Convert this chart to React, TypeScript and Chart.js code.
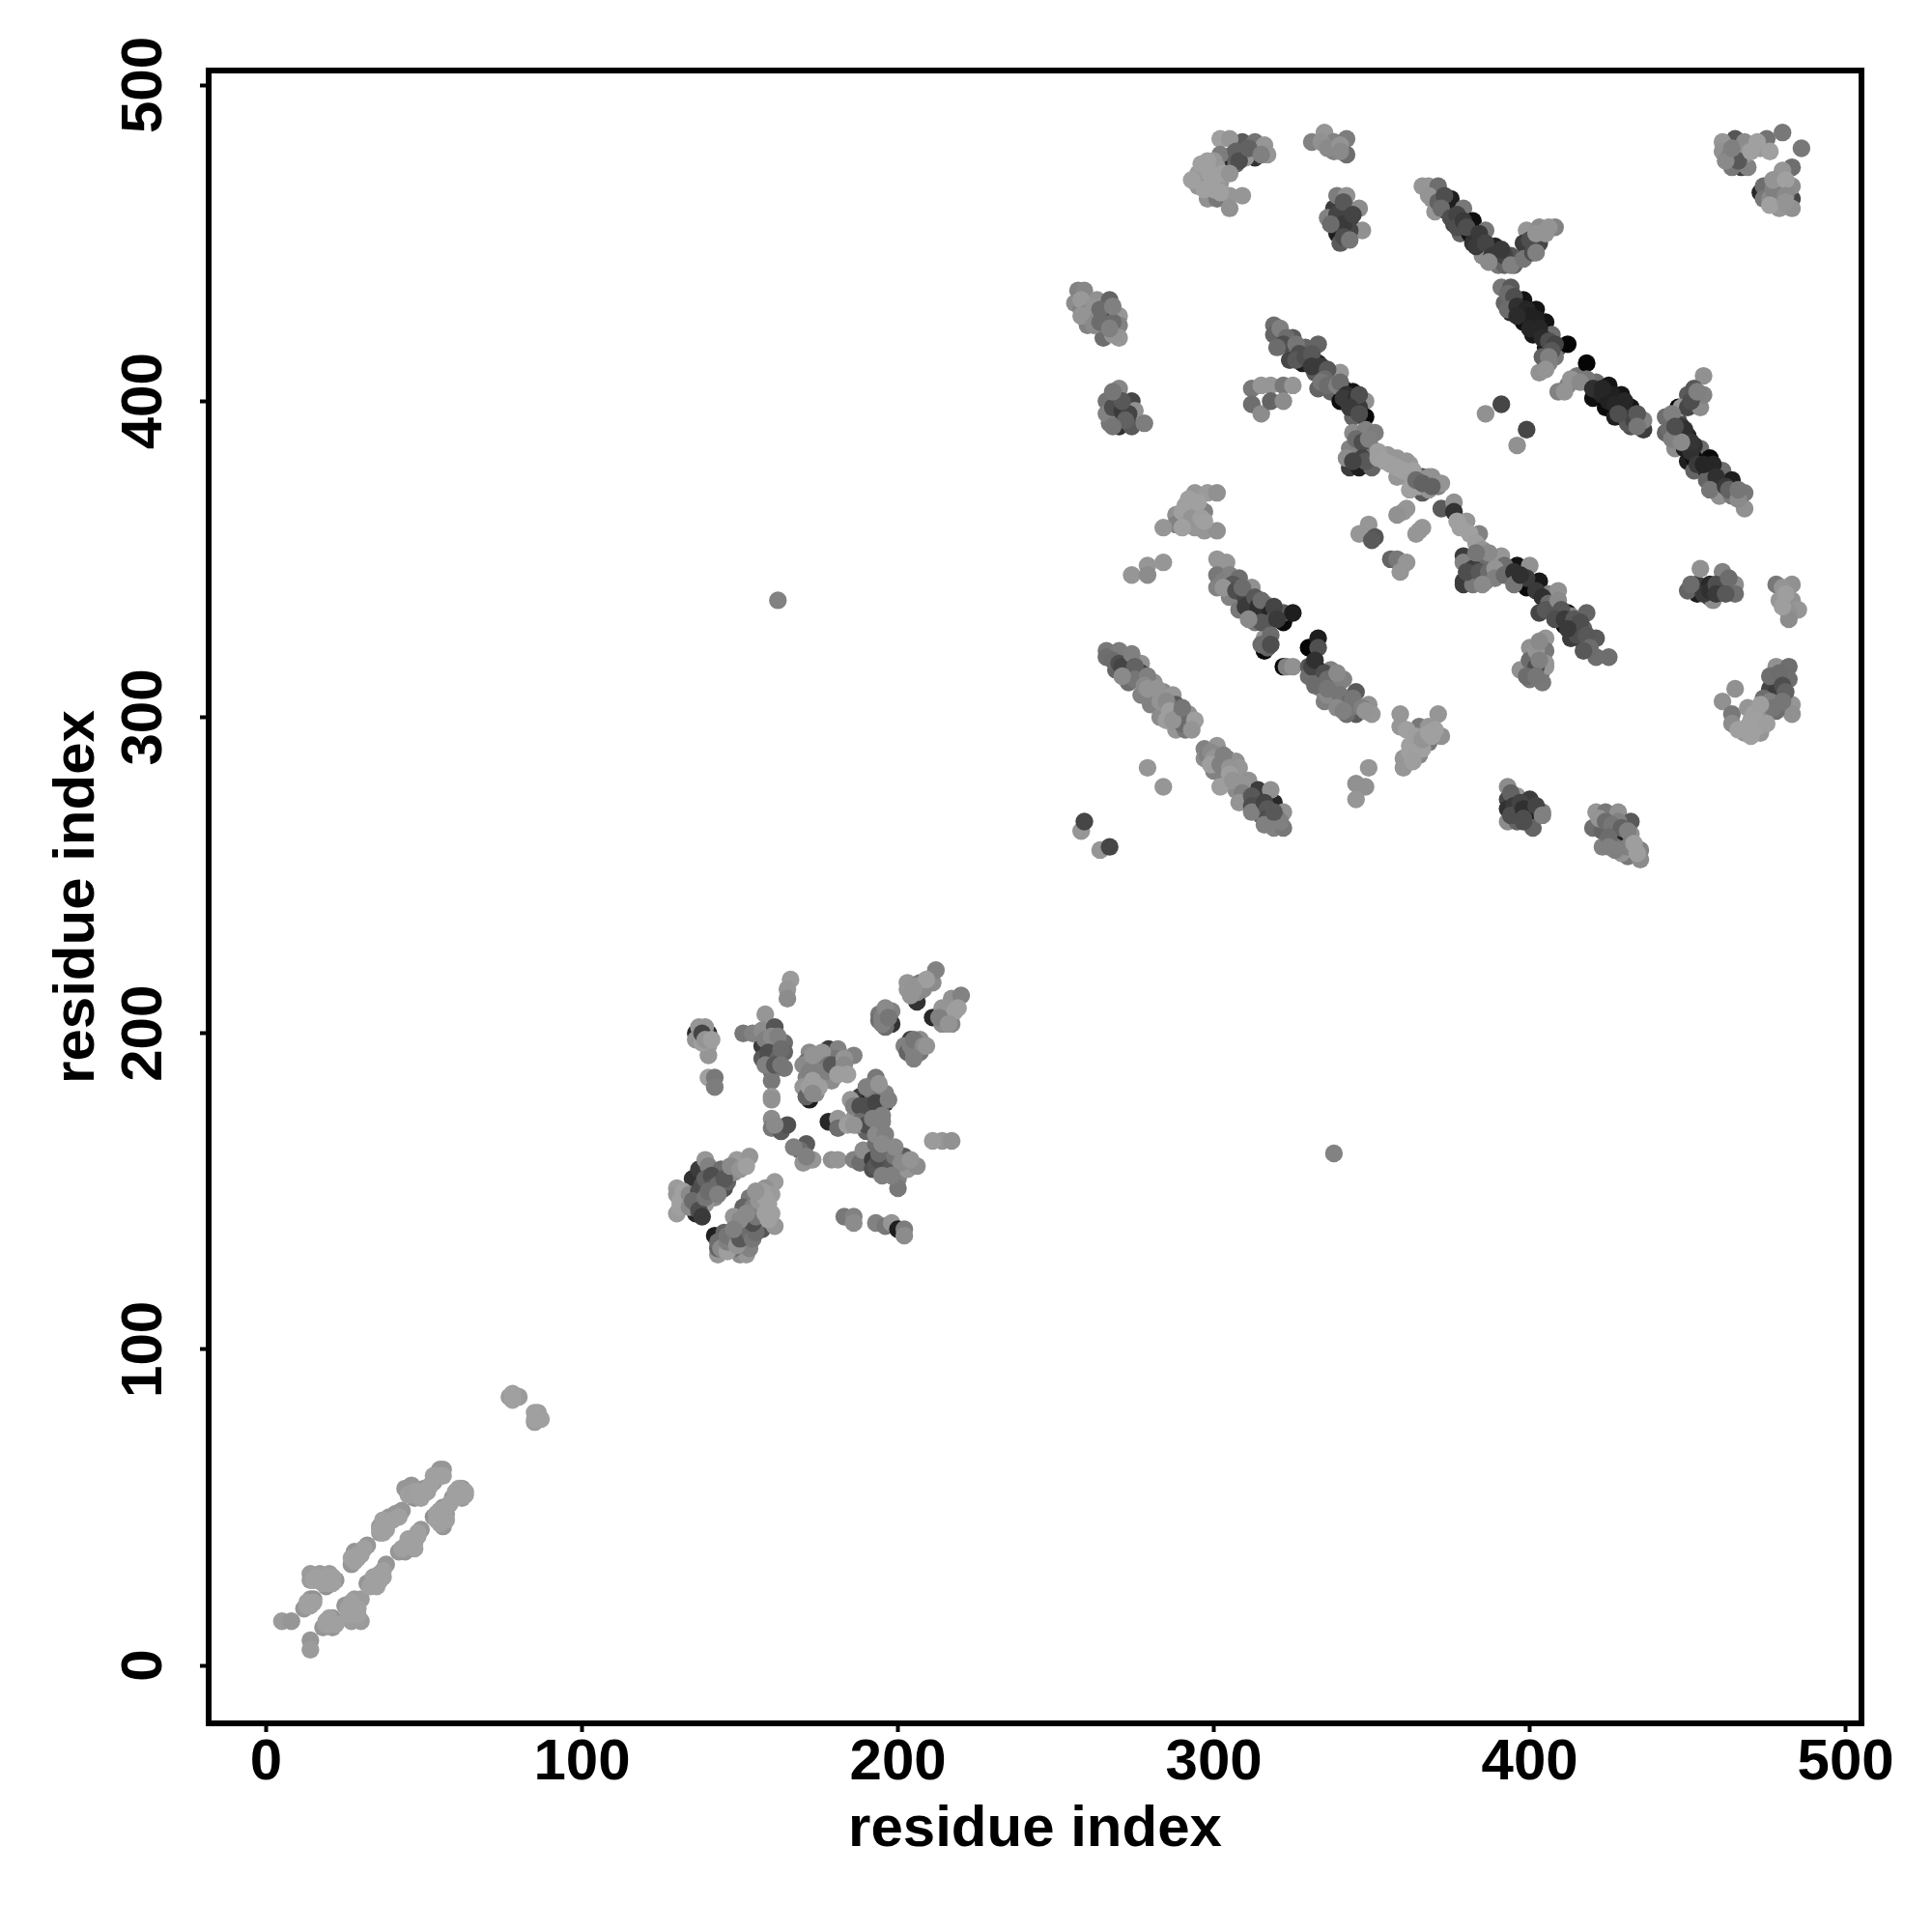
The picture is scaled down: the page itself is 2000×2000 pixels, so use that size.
import React, { useEffect, useRef } from "react";
import { Chart, registerables } from "chart.js";

Chart.register(...registerables);

type Row = [number, number, number]; // residue i, residue j, grey tone of the contact

const xTicks = [0, 100, 200, 300, 400, 500];
const yTicks = [0, 100, 200, 300, 400, 500];
const axisTitle = "residue index";

const helixDense: Row[] = [
  [15,27,150],[16,27,150],[18,27,150],[20,27,145],[16,28,155],[19,28,155],[21,28,150],[13,19,150],[14,19,150],[15,20,145],[13,20,150],[18,26,145],[20,26,145],[21,26,150],
  [27,34,150],[28,33,145],[29,34,150],[29,35,150],[31,37,150],[30,35,145],[36,43,150],[37,44,150],[38,45,150],[37,46,150],[38,43,145],[40,46,150],[42,47,150],[37,42,150],
  [45,54,150],[47,55,145],[46,54,140],[48,55,150],[49,53,145],[51,55,150],[52,57,150],[54,60,150],[53,60,150],[55,60,150],[56,60,150],
  [19,13,150],[20,13,150],[22,13,150],[20,15,145],[19,14,145],[26,16,150],[26,18,150],[27,20,150],[29,18,155],[29,16,155],[33,25,150],[34,26,150],[34,28,145],[37,30,150],[37,28,150],[35,25,150],
  [43,37,150],[45,38,150],[45,40,150],[46,38,150],[48,41,150],[47,37,150],[48,42,150],[54,48,145],[55,49,150],[54,46,145],[55,45,150],[57,46,150],[58,51,150],[60,53,150],[60,55,150],[61,54,150],[61,56,150],[63,55,155],[63,54,155],
  [78,86,155],[78,84,155],[85,80,155],[85,78,155],[87,78,155],
];
const loopDense: Row[] = [
  [131,147,150],[131,145,150],[132,150,150],[134,149,120],[134,145,120],[137,150,60],[138,152,60],[139,154,80],[141,155,60],[141,151,70],[143,152,90],[145,154,70],[147,158,120],[150,157,130],[152,158,150],[135,147,90],[137,144,60],[138,142,40],[139,148,100],[140,150,90],[143,149,110],
  [143,134,90],[144,132,120],[146,131,140],[146,134,110],[146,136,100],[148,135,100],[149,133,130],[150,135,70],[150,139,120],[152,138,60],[153,137,90],[154,135,100],[155,137,90],[154,140,60],[155,142,100],[154,145,110],[156,147,130],[157,150,140],[158,148,145],[159,146,150],[158,143,145],[159,141,150],[160,143,150],[155,150,130],[152,143,120],[150,141,120],[148,138,110],
  [158,198,110],[160,199,120],[162,199,110],[159,194,60],[162,192,80],[163,195,90],[158,190,110],[161,190,70],[163,190,100],[170,190,120],[172,188,110],[173,193,130],[176,194,130],[178,190,100],[177,188,110],[179,190,70],[183,192,130],[183,190,120],[184,187,140],[181,187,140],[173,185,140],[172,183,140],[175,183,140],[173,181,120],
  [186,177,110],[188,177,60],[190,177,60],[193,178,50],[190,183,110],[194,184,130],[197,179,110],[187,171,120],[188,172,90],[190,171,60],[192,173,110],[195,174,110],[184,171,140],[186,171,130],[193,168,120],[196,168,110],[195,172,110],
  [193,158,70],[194,160,60],[194,162,90],[195,165,120],[198,158,70],[199,161,100],[199,164,120],[201,159,120],[195,155,110],[198,155,110],[204,160,130],[167,164,110],[170,159,130],[171,161,110],[161,171,120],
  [138,198,60],[136,198,130],[138,197,140],[138,200,50],[139,198,130],[141,198,140],[195,205,110],[196,208,120],[195,203,110],[197,205,100],[204,212,130],[206,215,130],[208,214,120],[209,217,140],[205,214,130],
  [204,196,110],[205,194,110],[205,198,100],[208,196,120],[209,196,130],[205,192,110],[215,205,120],[216,208,130],[218,207,140],[213,205,110],[219,208,140],[216,203,130],
];
const upperDense: Row[] = [
  [321,423,110],[323,420,90],[322,418,60],[320,417,90],[326,418,100],[327,415,60],[326,413,70],[329,414,60],[331,415,70],[331,411,40],[334,411,40],[336,410,70],[335,407,90],[334,406,100],[336,405,90],[339,405,110],[340,406,90],[342,402,30],[341,401,40],[345,401,30],[346,398,40],[346,402,60],[343,398,40],[346,396,60],
  [345,388,90],[347,387,60],[349,388,110],[347,382,50],[348,381,70],[344,381,50],[352,384,140],[352,382,140],[354,381,150],[356,380,150],[358,379,150],[360,378,150],[363,378,145],[363,375,140],[362,372,150],[365,373,145],[368,372,130],[364,375,90],[366,374,80],[371,373,110],[372,374,130],[369,373,80],
  [377,362,150],[378,360,145],[381,358,150],[383,355,140],[385,353,130],[387,352,120],[383,352,100],[380,346,60],[384,346,70],[387,346,90],[389,347,130],[389,344,110],[385,342,120],[392,345,90],[395,346,30],[395,342,100],[397,345,30],
  [402,340,40],[404,338,30],[406,336,90],[405,334,70],[409,337,120],[410,334,70],[408,331,60],[411,331,40],[414,331,70],[416,330,60],[415,326,60],[418,326,70],[412,328,40],[419,322,90],[417,321,70],
  [368,465,130],[371,463,80],[373,465,60],[372,461,90],[375,458,60],[377,459,50],[377,455,60],[379,457,40],[380,455,60],[384,453,40],[383,449,40],[386,450,50],[388,446,40],[392,446,50],[391,448,40],[387,444,120],[394,443,110],[398,445,100],[401,447,60],[400,451,60],[402,453,130],[405,453,130],[406,455,130],[402,447,110],
  [393,434,90],[395,433,60],[393,429,90],[396,430,30],[399,429,20],[400,427,15],[396,427,25],[402,426,15],[403,423,20],[400,423,20],[404,420,25],[406,419,60],[408,418,50],[407,416,70],[404,414,80],[406,414,110],[405,410,130],
  [411,403,130],[413,407,130],[416,406,120],[420,404,30],[422,403,30],[423,402,20],[426,402,15],[425,400,15],[427,399,20],[429,397,20],[431,396,40],[430,400,20],[431,393,70],[433,394,50],[434,396,70],[434,392,100],[428,396,60],[423,404,20],
  [445,396,110],[444,391,90],[445,388,110],[448,392,40],[449,391,30],[452,386,30],[451,384,30],[453,380,40],[455,380,20],[458,380,20],[459,376,30],[457,372,100],[462,373,40],[463,372,80],[466,369,120],[466,372,100],[451,387,35],[448,387,120],[446,392,60],[451,400,60],[452,404,70],[453,403,110],
];
const lowerDense: Row[] = [
  [303,343,110],[306,342,70],[303,341,130],[307,340,60],[310,338,50],[309,341,90],[310,335,40],[313,338,70],[314,335,30],[315,337,90],[318,333,20],[319,331,60],[315,330,70],[311,331,120],[319,335,50],[320,331,40],[318,326,90],[315,323,90],[318,323,60],
  [331,316,50],[332,318,30],[335,314,60],[332,310,90],[336,312,90],[335,305,110],[336,307,120],[339,309,110],[340,307,100],[343,305,90],[343,303,100],[344,306,100],[347,303,110],[348,302,130],[339,303,120],[341,302,110],[336,309,100],[339,314,120],
  [268,318,90],[270,317,60],[271,316,50],[274,320,110],[275,316,80],[275,312,100],[271,313,120],[279,313,110],[278,310,120],[279,309,130],[282,309,130],[283,305,130],[285,305,120],[286,302,140],[285,299,140],[289,300,110],[290,298,90],[287,299,130],[290,303,100],[294,299,140],[293,296,130],
  [298,288,110],[299,289,120],[300,287,130],[299,285,140],[302,285,110],[303,288,110],[305,284,130],[305,282,140],[302,278,140],[306,280,130],[309,279,130],[309,276,110],[308,273,130],[312,275,70],[312,272,60],[312,270,110],[316,273,50],[317,271,70],[317,268,60],[320,268,90],[321,267,110],[316,266,110],[319,270,70],
];
const blockDense: Row[] = [
  [307,479,80],[308,476,60],[311,480,80],[315,478,110],[296,475,155],[298,476,150],[303,472,150],[300,471,155],[305,472,130],[293,470,150],[297,467,155],[300,467,150],[302,466,145],[299,472,155],
  [336,480,120],[340,481,130],[340,479,120],[339,459,50],[341,456,40],[337,456,90],[341,452,60],[343,451,100],[341,463,70],[344,459,50],
  [258,432,135],[260,428,120],[262,430,130],[264,429,90],[258,427,130],[262,424,120],[268,425,90],[264,425,90],[268,430,110],[268,421,130],[267,423,110],
  [268,398,60],[271,397,40],[273,396,50],[271,400,70],[268,403,100],[272,394,80],[268,392,100],
  [291,367,140],[290,365,145],[293,363,130],[292,369,150],[295,368,150],[296,363,140],[297,362,150],[290,360,150],
  [468,478,130],[463,477,100],[466,476,70],[470,479,150],[472,482,150],[476,479,150],[462,476,120],[464,480,110],[476,464,120],[477,467,110],[477,470,130],[481,470,145],[481,465,120],[476,462,150],[481,463,130],
  [455,339,40],[457,340,30],[459,342,60],[459,339,40],[451,342,90],[463,344,90],[462,339,70],[480,341,130],[481,339,140],[480,335,140],
  [479,314,90],[480,310,60],[481,308,80],[476,305,110],[477,303,100],[471,301,150],[470,299,150],[472,297,150],[470,294,150],[466,296,150],[480,305,100],[473,304,140],[475,298,140],
  [394,276,80],[395,272,40],[394,269,60],[397,273,50],[398,271,30],[402,272,50],[398,268,60],[398,267,60],[404,269,110],
  [422,268,130],[424,267,90],[426,266,100],[429,265,80],[431,264,110],[425,262,90],[425,259,110],[429,257,130],[431,259,110],[433,260,140],[434,257,140],[427,258,110],
  [400,318,90],[402,321,130],[403,324,120],[402,316,60],[403,318,110],[399,313,90],[402,313,100],
  [361,296,150],[362,291,150],[364,294,140],[366,290,145],[366,293,130],[369,294,145],[370,296,150],[362,289,150],[363,286,140],[368,295,150],
];
const helixUpper: Row[] = [
  [5,14,155],[8,14,150],[14,8,150],[14,5,155],[12,18,150],[14,21,150],[15,21,145],[14,29,155],[14,27,155],[17,29,155],[20,29,155],[22,27,150],[19,25,145],
  [27,32,150],[28,36,150],[30,36,150],[32,38,150],[36,42,155],[36,44,150],[39,47,150],[41,48,150],[43,49,150],[44,56,150],[46,57,150],[47,53,145],[50,56,150],[53,58,150],[55,62,150],[56,62,150],
];
const helixLower: Row[] = [
  [18,12,150],[21,15,145],[21,12,150],[25,19,150],[28,21,155],[28,18,155],[28,15,155],[27,14,155],[30,14,155],[30,21,155],[32,26,150],[36,27,150],[36,29,145],[38,32,150],
  [42,36,150],[44,36,150],[47,39,150],[49,43,150],[53,47,145],[56,44,150],[57,48,155],[56,50,150],[59,53,150],[62,56,150],[62,53,155],
  [77,85,155],[79,85,155],[80,85,155],[86,79,155],[85,77,155],[86,80,155],
];
const loopContacts: Row[] = [
  [136,200,40],[140,200,40],[137,202,150],[139,202,150],[140,196,155],[140,193,150],[140,186,170],[142,186,120],[142,183,125],
  [166,217,155],[165,214,150],[165,211,140],
  [157,196,60],[160,196,50],[157,192,90],[159,192,60],[158,206,150],[151,200,120],[154,200,130],[157,201,140],[164,197,110],[164,194,100],[161,194,130],[161,202,85],[164,189,120],[160,188,110],[160,185,120],[160,180,150],[160,179,145],
  [162,170,20],[160,173,140],[160,170,120],[163,169,90],[165,171,80],
  [171,165,90],[169,163,110],[172,160,120],[173,160,150],[179,160,145],[181,160,150],[186,160,130],[188,159,110],[189,163,140],
  [192,160,60],[196,160,70],[192,157,80],[193,165,110],[196,157,90],[197,163,110],[197,160,120],[202,161,90],[200,156,120],[200,154,130],[203,157,150],[206,158,140],[200,151,120],
  [214,166,150],[211,166,155],[217,166,145],[183,142,120],[186,142,130],[186,140,140],
  [193,140,130],[196,139,120],[198,140,150],[200,138,30],[202,138,125],[202,136,140],
];
const loopCore: Row[] = [
  [172,179,30],[178,195,60],[177,192,50],[172,194,140],[171,191,110],[174,191,130],[171,186,130],[181,195,130],[180,192,120],[182,188,150],[179,185,140],[186,193,130],[170,183,150],[171,180,100],[174,181,140],
  [188,180,60],[191,179,40],[196,178,50],[191,172,50],[178,172,40],[193,186,120],[185,179,150],[192,181,120],[196,181,130],[193,175,110],[188,175,130],[186,173,150],[193,172,130],[194,170,100],[181,173,150],[181,170,110],[190,169,100],
  [206,210,50],[203,216,150],[207,216,120],[206,213,140],[211,216,140],[212,220,130],[203,214,150],
  [198,203,50],[194,206,120],[198,207,130],[196,202,110],[194,204,110],
  [204,198,60],[202,196,130],[207,198,140],[207,194,120],[203,194,100],
  [211,205,40],[217,211,145],[220,212,130],[214,208,150],[217,206,100],[217,203,135],[214,203,140],
];
const betaCorner: Row[] = [
  [145,151,80],[135,154,50],[137,157,60],[136,143,40],[146,153,100],[143,154,70],
  [130,151,155],[130,149,150],[130,143,155],[139,160,150],[140,158,130],[144,157,110],[149,160,155],[153,161,150],[148,156,140],[133,148,140],[142,148,140],[136,146,120],[139,146,150],
  [142,136,30],[152,135,30],[153,141,70],[157,138,85],[153,148,120],[151,145,100],
  [161,153,155],[158,151,145],[160,149,155],[157,146,140],[156,143,135],[161,139,150],[145,137,100],[148,142,150],[151,137,130],[143,130,150],[150,130,140],[152,130,150],[148,132,110],[153,132,130],[143,132,100],
  [162,337,130],[338,162,130],
];
const upperLeftBlocks: Row[] = [
  [304,475,40],[313,477,50],[306,478,80],[309,482,90],[302,483,160],[305,483,150],[302,478,125],[313,482,115],[316,481,150],[317,478,150],[307,475,100],[310,477,150],
  [295,472,155],[295,470,150],[298,473,155],[301,474,150],[298,469,155],[295,468,150],[302,469,150],[298,464,145],[301,464,120],[305,465,150],[309,465,150],[305,461,145],[300,476,150],
  [331,482,130],[335,485,150],[338,482,130],[342,483,125],[338,479,130],[342,478,110],[334,482,145],
  [339,457,30],[339,453,30],[338,461,60],[342,461,60],[341,458,60],[343,457,55],[339,465,125],[342,465,145],[346,461,140],[336,458,130],[347,454,145],[340,450,90],[343,454,70],
  [257,435,130],[259,435,135],[256,431,140],[258,429,130],[263,432,145],[267,432,100],[262,427,50],[266,428,50],[270,427,150],[270,424,130],[260,424,130],[266,423,60],[265,420,110],[270,420,150],
  [269,400,40],[269,396,20],[270,392,50],[270,404,135],[266,400,115],[274,400,70],[275,397,145],[267,393,120],[274,392,90],[278,393,125],[266,396,130],
  [294,371,150],[298,371,155],[301,371,145],[292,367,130],[297,365,130],[288,364,145],[288,361,130],[284,360,150],[294,360,150],[297,359,150],[301,359,145],[294,365,150],
  [274,345,150],[279,348,150],[279,345,140],[284,349,150],
];
const midStrand: Row[] = [
  [319,424,110],[319,421,100],[325,420,90],[325,416,130],[329,417,100],[333,418,100],[324,413,70],[328,412,30],[333,412,35],[330,414,120],[332,409,90],[337,408,110],[340,409,150],[333,404,100],[337,403,100],[341,404,20],[344,403,20],[340,400,15],[344,400,70],[348,400,145],[344,395,100],[348,395,10],
  [312,404,120],[312,399,110],[315,396,140],[315,405,150],[318,405,150],[318,400,100],[322,405,120],[322,400,140],[325,405,150],
  [343,379,60],[346,379,30],[346,384,30],[344,390,140],[348,391,130],[351,390,125],[343,385,130],[350,385,120],[350,379,100],[342,382,140],[355,383,150],[358,382,150],[362,380,155],[358,376,150],[361,376,150],[366,376,60],[369,376,145],[366,371,90],
  [361,381,150],[365,376,90],[368,376,145],[361,366,150],[372,366,90],[376,368,145],[376,365,50],[365,359,150],[380,362,150],[384,358,130],
  [346,358,150],[349,361,150],[351,357,85],[350,356,90],[356,350,100],[358,350,120],[361,349,150],[359,346,150],
  [360,365,150],[358,364,145],[366,360,150],[364,358,150],
  [379,351,60],[382,348,40],[379,342,60],[385,350,100],[382,343,100],
  [379,349,130],[382,347,60],[386,347,50],[386,351,110],[379,343,60],[382,342,120],[386,343,130],
  [396,348,20],[403,343,25],[399,341,10],[403,333,70],[412,333,20],[411,329,10],[417,324,20],[413,325,60],
  [391,351,150],[392,348,110],[400,348,145],[399,344,60],[406,339,130],[409,340,145],[407,335,130],[413,332,130],[418,333,100],[417,328,100],[414,328,150],[421,325,90],[421,319,110],[425,319,110],
  [404,315,50],[405,325,150],[400,322,145],[405,321,120],[400,318,110],[405,317,150],[397,315,145],[405,316,150],[400,312,120],[404,311,120],
];
const upperStrand: Row[] = [
  [366,468,150],[368,468,150],[371,468,110],[369,464,140],[370,460,150],[375,464,30],[374,460,30],[376,456,70],[379,461,120],[378,453,100],[382,457,15],[381,453,20],[382,450,50],[386,454,120],[385,446,140],[389,449,35],[390,446,50],[390,443,120],[394,446,85],[395,443,100],[392,443,100],
  [399,447,50],[399,454,150],[403,455,140],[408,455,130],[403,450,70],[398,450,60],
  [391,436,120],[394,436,90],[392,431,100],[398,432,20],[394,428,40],[402,429,20],[398,425,15],[405,425,20],[401,421,25],[407,421,110],[405,417,30],[409,417,80],[408,414,120],[406,412,130],[403,409,145],[412,418,5],
  [409,403,130],[412,405,130],[415,408,120],[418,412,5],[418,406,10],[421,406,110],[418,407,120],[420,401,15],[425,405,20],[424,398,10],[429,402,20],[427,395,30],[432,398,20],[432,392,80],[436,391,60],[436,394,130],
  [443,395,110],[443,390,100],[447,394,80],[450,402,90],[447,398,10],[448,398,150],[450,398,70],[454,398,140],[455,402,130],[455,408,145],
  [447,389,35],[450,389,35],[446,385,140],[449,385,30],[454,385,110],[450,381,30],[452,378,100],[452,382,15],[457,382,10],[456,378,30],[456,375,100],[461,378,110],[460,374,40],[464,375,30],[460,370,145],[464,370,120],[468,366,145],[468,371,120],
  [386,396,145],[391,399,70],[399,391,70],[396,386,145],
];
const cornerBlocks: Row[] = [
  [473,466,40],[483,464,70],[467,474,60],[465,483,85],
  [461,482,150],[468,482,140],[461,479,145],[464,474,120],[469,474,130],[465,479,150],[473,480,150],[475,483,115],[480,485,120],[486,480,120],[483,474,110],[480,473,150],[474,468,110],[474,464,120],[479,467,145],[483,468,140],[479,461,150],[483,461,145],
  [453,342,60],[453,339,30],[457,342,40],[457,338,20],[461,340,60],[454,347,145],[450,340,100],[458,337,140],[461,346,130],[465,342,140],[465,339,110],
  [478,342,120],[483,342,145],[479,337,150],[483,337,145],[485,334,150],[482,333,145],[482,331,140],
  [476,309,70],[478,308,60],[478,305,70],[478,316,145],[482,316,110],[476,313,110],[482,312,110],[483,304,150],[483,301,145],[478,302,110],[474,306,110],[474,302,130],[465,309,145],[461,305,145],[464,301,120],[464,298,140],[469,303,150],[469,297,150],[468,295,150],[473,295,150],[473,299,145],
];
const lowerStrands: Row[] = [
  [273,318,30],[273,315,40],[266,321,120],[270,321,125],[266,319,110],[277,317,145],[269,315,100],[277,314,70],[273,311,110],[281,311,145],[277,307,130],[284,308,140],[280,304,130],[287,307,150],[288,304,90],[283,300,140],[292,298,50],[292,301,145],[288,296,150],[291,296,120],
  [297,290,130],[301,291,150],[297,287,140],[300,283,130],[304,287,110],[307,286,145],[303,280,130],[308,284,150],[311,280,145],[307,277,140],[310,273,120],[314,277,60],[314,271,40],[319,273,40],[318,277,145],[315,269,100],[322,270,145],[319,265,130],[322,265,120],
  [279,284,150],[284,278,150],[258,264,150],[259,267,70],[264,258,150],[267,259,70],
  [312,334,10],[316,333,10],[308,337,50],[301,350,150],[304,349,150],[301,345,120],[301,341,130],[305,345,130],[308,344,110],[305,338,130],[308,334,120],[312,341,145],[312,336,70],[316,336,140],[313,330,120],[317,330,80],[322,330,10],[322,333,90],[325,333,30],[316,321,10],[316,325,150],[317,322,100],
  [330,322,5],[333,325,30],[333,322,80],[322,316,10],[323,316,130],[325,316,145],[333,315,5],[333,312,10],[330,316,90],[330,313,110],[337,315,130],[334,309,140],[341,312,130],[338,305,130],[341,305,130],[345,308,90],[345,301,90],[342,301,110],[349,304,145],[350,301,150],
  [349,284,150],[345,279,145],[348,278,145],[345,274,150],
  [359,301,150],[359,297,150],[360,284,150],[360,287,150],[365,288,135],[365,297,120],[368,297,150],[371,301,150],[372,294,145],[364,292,130],[368,292,120],
  [393,274,70],[393,271,50],[400,270,30],[396,270,50],[393,278,140],[396,275,150],[400,274,60],[404,270,130],[393,267,140],[396,267,100],[401,265,100],
  [427,262,30],[421,270,150],[420,265,110],[424,270,120],[428,270,145],[432,267,90],[428,267,130],[423,264,100],[423,259,130],[427,259,120],[432,263,145],[431,256,120],[435,258,130],[435,255,140],
];

const clusters: Row[][] = [helixDense, loopDense, upperDense, lowerDense, blockDense, helixUpper, helixLower, loopContacts, loopCore, betaCorner, upperLeftBlocks, midStrand, upperStrand, cornerBlocks, lowerStrands];

const FONT = "'Liberation Sans', Arial, sans-serif";

const frame = {
  id: "frame",
  afterDatasetsDraw(chart: Chart) {
    const { ctx, chartArea: a } = chart;
    ctx.save();
    ctx.strokeStyle = "#000";
    ctx.lineWidth = 6;
    ctx.strokeRect(a.left, a.top, a.right - a.left, a.bottom - a.top);
    ctx.restore();
  },
};

const toneColor = (g: number, lift: number) => {
  const v = Math.min(160, g + lift);
  return `rgb(${v},${v},${v})`;
};

export default function App() {
  const ref = useRef<HTMLCanvasElement>(null);
  useEffect(() => {
    const chart = new Chart(ref.current!, {
      type: "scatter",
      data: {
        datasets: clusters.map((rows, i) => ({
          data: rows.map(([x, y]) => ({ x, y })),
          pointRadius: 9.2,
          pointBorderWidth: 0,
          pointBackgroundColor: rows.map(([, , g]) => toneColor(g, i < 5 ? 18 : 0)),
        })),
      },
      options: {
        animation: false,
        responsive: false,
        layout: { padding: { top: 73, right: 73, left: 0, bottom: 0 } },
        plugins: { legend: { display: false }, tooltip: { enabled: false } },
        scales: {
          x: {
            type: "linear",
            min: -18.2,
            max: 505,
            afterBuildTicks: (s: any) => { s.ticks = xTicks.map((value) => ({ value })); },
            afterFit: (s: any) => { s.height = 216; },
            grid: { drawOnChartArea: false, drawTicks: true, tickLength: 9, tickWidth: 4, tickColor: "#000" },
            border: { display: false },
            ticks: { color: "#000", padding: -4, maxRotation: 0, autoSkip: false, font: { family: FONT, size: 60, weight: "bold" } },
            title: { display: true, text: axisTitle, color: "#000", padding: { top: 0, bottom: 70 }, font: { family: FONT, size: 60, weight: "bold" } },
          },
          y: {
            type: "linear",
            min: -18.3,
            max: 504.6,
            afterBuildTicks: (s: any) => { s.ticks = yTicks.map((value) => ({ value })); },
            afterFit: (s: any) => { s.width = 216; },
            grid: { drawOnChartArea: false, drawTicks: true, tickLength: 9, tickWidth: 4, tickColor: "#000" },
            border: { display: false },
            ticks: { color: "#000", padding: 6, minRotation: 90, maxRotation: 90, crossAlign: "center", autoSkip: false, font: { family: FONT, size: 60, weight: "bold" } },
            title: { display: true, text: axisTitle, color: "#000", padding: { top: 44, bottom: 0 }, font: { family: FONT, size: 60, weight: "bold" } },
          },
        },
      },
      plugins: [frame],
    } as any);
    return () => chart.destroy();
  }, []);
  return (
    <div style={{ position: "absolute", left: 0, top: 0, width: 2000, height: 2000, background: "#fff" }}>
      <canvas ref={ref} width={2000} height={2000} style={{ display: "block", width: 2000, height: 2000 }} />
    </div>
  );
}
